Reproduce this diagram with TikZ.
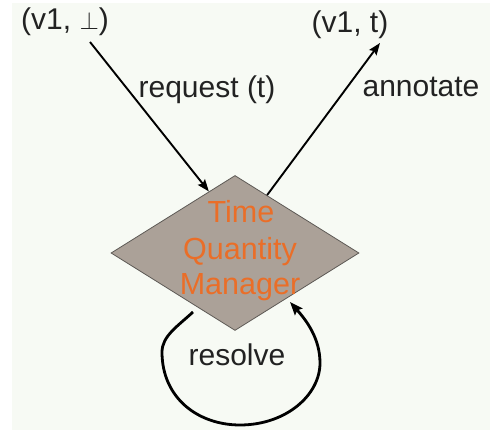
\documentclass[tikz,border=0pt]{standalone}
\usepackage{fontspec}
\setmainfont{Liberation Sans}
\usetikzlibrary{shapes.geometric,arrows.meta}
\definecolor{bgpaper}{HTML}{F7FAF4}
\definecolor{tqmfill}{HTML}{ABA198}
\definecolor{tqmline}{HTML}{5E5A56}
\definecolor{tqmtext}{HTML}{EA6E28}
\definecolor{inktext}{HTML}{222222}
\tikzset{
  lbl/.style={anchor=base, inner sep=0pt, text=inktext, font=\fontsize{30}{35}\selectfont},
  otxt/.style={anchor=base, inner sep=0pt, text=tqmtext, font=\fontsize{30.5}{36}\selectfont},
  tqmshape/.style={diamond, draw=tqmline, line width=0.8pt, fill=tqmfill, inner sep=0pt, minimum width=248pt, minimum height=155pt},
  arr/.style={draw=black, line width=1.9pt, -{Stealth[length=12pt,width=9pt,inset=2pt]}},
  looparr/.style={draw=black, line width=2.8pt, -{Stealth[length=13pt,width=10pt,inset=2pt]}}
}
\begin{document}
\begin{tikzpicture}[x=1pt,y=1pt]
\useasboundingbox (0,0) rectangle (490,430);
\fill[white] (0,0) rectangle (490,430);
\fill[bgpaper] (12,0) rectangle (490,427);
% diamond
\node[tqmshape] (tqm) at (235,177) {};
\node[otxt] (tqm1) at (241,207) {Time};
\node[otxt] (tqm2) at (240,170) {Quantity};
\node[otxt] (tqm3) at (240,135) {Manager};
% labels
\node[lbl] (src) at (65,400) {(v1, \ensuremath{\perp})};
\node[lbl] (dst) at (350,397) {(v1, t)};
\node[lbl] (req) at (207,332) {request (t)};
\node[lbl] (ann) at (421,333) {annotate};
\node[lbl] (res) at (237,64) {resolve};
% connector ends
\coordinate (srcend) at (90,388);
\coordinate (dstend) at (380,387);
\coordinate (loopS) at (193,118);
\coordinate (loopE) at (290,128);
% arrows
\draw[arr] (srcend) -- (tqm.113);
\draw[arr] (tqm.61) -- (dstend);
\draw[looparr] (loopS) .. controls (178,104) and (162,94) .. (162,78)
  .. controls (162,32) and (198,5) .. (240,5)
  .. controls (286,5) and (320,35) .. (320,67)
  .. controls (320,92) and (306,110) .. (loopE);
\end{tikzpicture}
\end{document}
